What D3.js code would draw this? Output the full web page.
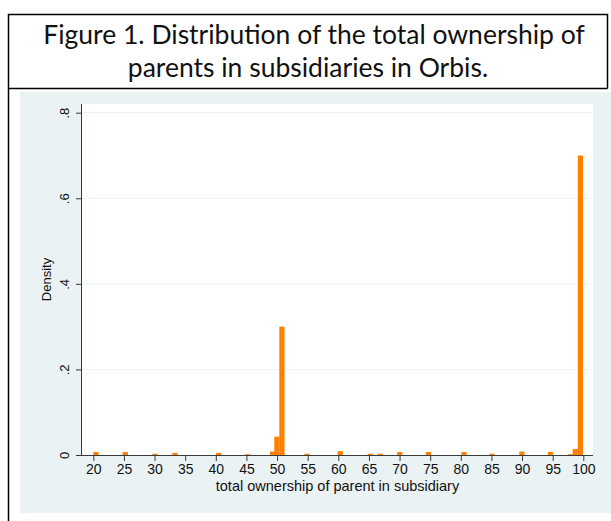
<!DOCTYPE html>
<html>
<head>
<meta charset="utf-8">
<script src="https://cdn.jsdelivr.net/npm/d3@7"></script>
<style>
  body { margin: 0; background: #fff; }
  svg { display: block; }
</style>
</head>
<body>
<div id="chart"></div>
<script>
// histogram bins (left edge, in ownership %) and density heights
const binStart = [20.0, 24.8, 29.63, 32.9, 40.03, 44.77, 48.85, 49.55, 50.37, 54.45,
  59.9, 64.8, 66.43, 69.6, 74.3, 80.1, 84.65, 89.55, 94.2, 97.45, 98.27, 99.1];
const density = [0.007, 0.007, 0.003, 0.005, 0.005, 0.002, 0.008, 0.043, 0.30, 0.003,
  0.009, 0.003, 0.003, 0.007, 0.007, 0.007, 0.003, 0.008, 0.007, 0.002, 0.014, 0.70];
const binWidth = 0.85;
const xTicks = [20, 25, 30, 35, 40, 45, 50, 55, 60, 65, 70, 75, 80, 85, 90, 95, 100];
const yTicks = [0, 0.2, 0.4, 0.6, 0.8];
const yTickLabels = ["0", ".2", ".4", ".6", ".8"];

const W = 611, H = 521;
const svg = d3.select("#chart").append("svg")
  .attr("width", W).attr("height", H);

// frame around title + figure
svg.append("rect").attr("x", 20).attr("y", 92).attr("width", W - 20).attr("height", 421)
  .attr("fill", "#eaf2f3");
svg.append("path")
  .attr("d", "M8.5,521 V14.5 H607.5 V88.5 M8.5,88.5 H607.5")
  .attr("fill", "none").attr("stroke", "#000").attr("stroke-width", 1.5);

const title = ["Figure 1. Distribution of the total ownership of", "parents in subsidiaries in Orbis."];
svg.selectAll(".title").data(title).join("text")
  .attr("x", (d, i) => i ? 308 : 314)
  .attr("y", (d, i) => 44 + i * 33)
  .attr("text-anchor", "middle")
  .style("font-family", "Lato, 'Open Sans', sans-serif")
  .style("font-size", "26.5px")
  .attr("fill", "#111")
  .text(d => d);

// plot area
const plot = {left: 82, right: 593, top: 104, bottom: 455};
svg.append("rect").attr("x", plot.left).attr("y", plot.top)
  .attr("width", plot.right - plot.left).attr("height", plot.bottom - plot.top)
  .attr("fill", "#fff");

const x = d3.scaleLinear().domain([20, 100]).range([93.3, 583.3]);
const y = d3.scaleLinear().domain([0, 0.8]).range([plot.bottom, 112.7]);

// gridlines
svg.append("g").selectAll("line").data(yTicks.slice(1)).join("line")
  .attr("x1", plot.left).attr("x2", plot.right)
  .attr("y1", d => y(d)).attr("y2", d => y(d))
  .attr("stroke", "#eaf2f3").attr("stroke-width", 1);

// bars
svg.append("g").selectAll("rect").data(binStart).join("rect")
  .attr("x", d => x(d))
  .attr("y", (d, i) => y(density[i]))
  .attr("width", d => x(d + binWidth) - x(d))
  .attr("height", (d, i) => y(0) - y(density[i]))
  .attr("fill", "#ff8000");

// axes
const font = "'Liberation Sans', Arial, sans-serif";
const xAxis = svg.append("g")
  .attr("transform", `translate(0,${plot.bottom})`)
  .call(d3.axisBottom(x).tickValues(xTicks).tickSize(6).tickPadding(3).tickFormat(d3.format("d")));
xAxis.select(".domain").attr("d", `M${plot.left},0.5H${plot.right}`).attr("stroke", "#3a3a3a");
xAxis.selectAll(".tick line").attr("stroke", "#3a3a3a");
xAxis.selectAll("text").style("font-family", font).style("font-size", "14px").attr("fill", "#111");

const yAxis = svg.append("g")
  .attr("transform", `translate(${plot.left},0)`)
  .call(d3.axisLeft(y).tickValues(yTicks).tickSize(6).tickFormat((d, i) => yTickLabels[i]));
yAxis.select(".domain").attr("d", `M-0.5,${plot.top}V${plot.bottom}`).attr("stroke", "#3a3a3a");
yAxis.selectAll(".tick line").attr("stroke", "#3a3a3a");
yAxis.selectAll("text")
  .attr("x", null).attr("dy", null)
  .attr("text-anchor", "middle")
  .attr("transform", "translate(-13,0) rotate(-90)")
  .style("font-family", font).style("font-size", "13px").attr("fill", "#111");

svg.append("text")
  .attr("x", (plot.left + plot.right) / 2).attr("y", 491)
  .attr("text-anchor", "middle")
  .style("font-family", font).style("font-size", "14.5px").attr("fill", "#111")
  .text("total ownership of parent in subsidiary");

svg.append("text")
  .attr("transform", `translate(51,${(plot.top + plot.bottom) / 2}) rotate(-90)`)
  .attr("text-anchor", "middle")
  .style("font-family", font).style("font-size", "13px").attr("fill", "#111")
  .text("Density");
</script>
</body>
</html>
